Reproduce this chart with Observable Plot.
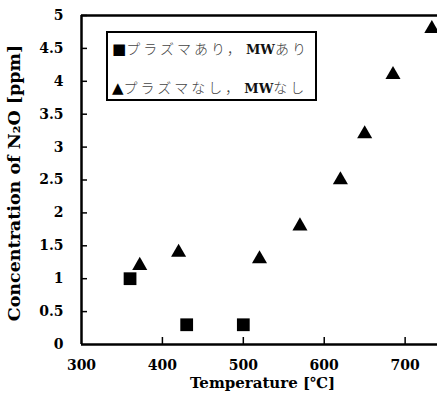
<!DOCTYPE html>
<html>
<head>
<meta charset="utf-8">
<script src="https://cdn.jsdelivr.net/npm/d3@7"></script>
<script src="https://cdn.jsdelivr.net/npm/@observablehq/plot@0.6"></script>
<style>
  body { margin: 0; background: #fff; }
  #wrap { position: relative; width: 437px; height: 396px; }
  #wrap svg text { font-family: "DejaVu Serif", serif; }
  #legend {
    position: absolute; left: 106px; top: 31px; width: 207px; height: 66px;
    border: 2px solid #000; background: #fff; box-sizing: content-box;
    font-size: 14px; color: #222;
  }
  #legend .row { position: absolute; left: 4px; white-space: nowrap; line-height: 16px; }
  #legend .jp { font-family: "Noto Sans CJK JP", sans-serif; font-weight: 300; letter-spacing: 3px; color: #444; }
  #legend .mw { font-family: "DejaVu Serif", serif; font-weight: bold; font-size: 13px; color: #111; margin-left: 2px; }
  #legend .sym { font-family: "DejaVu Sans", sans-serif; color: #000; font-size: 15px; }
</style>
</head>
<body>
<div id="wrap"></div>
<script>
const seriesNames = ["プラズマあり，MWあり", "プラズマなし，MWなし"];
const plasmaOnTemp = [360, 430, 500];
const plasmaOnN2O = [1.0, 0.3, 0.3];
const plasmaOffTemp = [372, 420, 520, 570, 620, 650, 685, 733];
const plasmaOffN2O = [1.2, 1.4, 1.3, 1.8, 2.5, 3.2, 4.1, 4.8];
const xTicks = [300, 400, 500, 600, 700];
const yTicks = [0, 0.5, 1, 1.5, 2, 2.5, 3, 3.5, 4, 4.5, 5];
const xLabel = "Temperature [℃]";
const yLabel = "Concentration of N₂O [ppm]";

const onData = plasmaOnTemp.map((t, i) => ({t, v: plasmaOnN2O[i]}));
const offData = plasmaOffTemp.map((t, i) => ({t, v: plasmaOffN2O[i]}));

const W = 437, H = 396, mL = 81, mR = 0, mT = 15, mB = 52;
const plotW = W - mL - mR, plotH = H - mT - mB;
const font = "DejaVu Serif, serif";

const chart = Plot.plot({
  width: W, height: H,
  marginLeft: mL, marginRight: mR, marginTop: mT, marginBottom: mB,
  style: {fontFamily: font, fontSize: "14px", fontWeight: "bold", color: "#000", background: "#fff", overflow: "visible"},
  x: {domain: [300, 740]},
  y: {domain: [0, 5]},
  marks: [
    Plot.axisX(xTicks, {tickSize: 0, tickPadding: 16, tickFormat: d => String(d), fontSize: 14, fontWeight: "bold", fontFamily: font, label: null}),
    Plot.axisY(yTicks, {tickSize: 0, tickPadding: 18, tickFormat: d => String(d), fontSize: 14, fontWeight: "bold", fontFamily: font, label: null}),
    Plot.tickX(xTicks.slice(1), {x: d => d, insetTop: plotH - 7, strokeWidth: 1.5}),
    Plot.tickY(yTicks.slice(1), {y: d => d, insetRight: plotW - 6, strokeWidth: 1.5}),
    Plot.ruleY([0], {strokeWidth: 2.5}),
    Plot.ruleY([5], {strokeWidth: 2.5}),
    Plot.ruleX([300], {strokeWidth: 2.5}),
    Plot.dot(onData, {x: "t", y: "v", symbol: "square", r: 7.2, fill: "#000", stroke: null}),
    Plot.dot(offData, {x: "t", y: "v", symbol: "triangle", r: 5.6, fill: "#000", stroke: null}),
    Plot.text([xLabel], {frameAnchor: "bottom", dx: 3, dy: 43, fontSize: 15, fontWeight: "bold", fontFamily: font}),
    Plot.text([yLabel], {frameAnchor: "left", textAnchor: "middle", rotate: -90, dx: -67, dy: 3, fontSize: 17.5, fontWeight: "bold", fontFamily: font})
  ]
});
const wrap = document.getElementById("wrap");
wrap.appendChild(chart);

const legend = document.createElement("div");
legend.id = "legend";
const syms = ["■", "▲"];
seriesNames.forEach((name, i) => {
  const row = document.createElement("div");
  row.className = "row";
  row.style.top = (i === 0 ? 7 : 46) + "px";
  const parts = name.split("MW");
  row.innerHTML = `<span class="sym">${syms[i]}</span><span class="jp">${parts[0]}</span><span class="mw">MW</span><span class="jp">${parts[1]}</span>`;
  legend.appendChild(row);
});
wrap.appendChild(legend);
</script>
</body>
</html>
